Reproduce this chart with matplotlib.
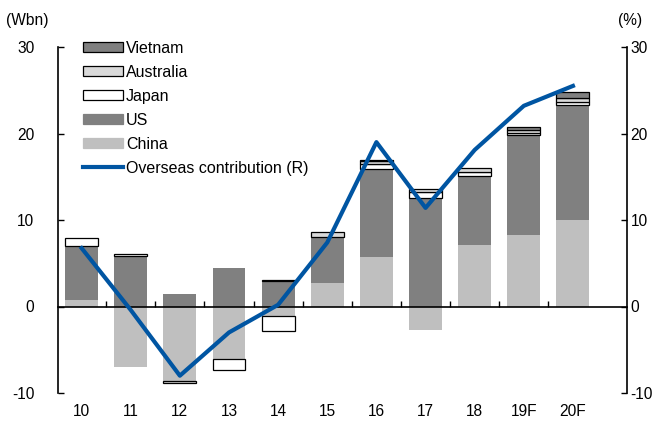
import numpy as np
import matplotlib
matplotlib.use('Agg')
import matplotlib.pyplot as plt
import matplotlib.patches as mpatches
from matplotlib.lines import Line2D

plt.rcParams['font.family'] = ['Liberation Sans', 'DejaVu Sans']
plt.rcParams['axes.unicode_minus'] = False

# data (Wbn, overseas contribution in %)
years = ['10', '11', '12', '13', '14', '15', '16', '17', '18', '19F', '20F']
china = [0.7, -7.0, -8.6, -6.1, -1.1, 2.7, 5.7, -2.7, 7.15, 8.3, 9.95]
us = [6.3, 5.8, 1.4, 4.5, 3.0, 5.3, 10.2, 12.5, 7.95, 11.5, 13.3]
japan = [0.9, 0.3, 0.0, -1.2, -1.7, 0.0, 0.6, 0.7, 0.5, 0.3, 0.4]
australia = [0.0, 0.0, -0.3, 0.0, 0.1, 0.6, 0.3, 0.4, 0.4, 0.3, 0.4]
vietnam = [0.0, 0.0, 0.0, 0.0, 0.0, 0.0, 0.1, 0.0, 0.0, 0.3, 0.7]
overseas = [6.75, -0.4, -8.0, -3.0, 0.2, 7.4, 19.0, 11.4, 18.1, 23.2, 25.5]

series = [
    ('China', china, '#BFBFBF', 'none'),
    ('US', us, '#808080', 'none'),
    ('Japan', japan, '#FFFFFF', 'black'),
    ('Australia', australia, '#D9D9D9', 'black'),
    ('Vietnam', vietnam, '#808080', 'black'),
]
line_color = '#0055A2'

fig = plt.figure(figsize=(6.53, 4.28), dpi=100)
ax = fig.add_axes([58 / 653, 35 / 428, (627 - 58) / 653, (393 - 47) / 428])

x = np.arange(len(years))
width = 0.67
pos_bottom = np.zeros(len(years))
neg_bottom = np.zeros(len(years))
handles = {}
for name, vals, color, edge in series:
    vals = np.array(vals)
    bottom = np.where(vals >= 0, pos_bottom, neg_bottom)
    lw = np.where(vals != 0, 0.9 if edge != 'none' else 0, 0)
    ax.bar(x, vals, width, bottom=bottom, color=color, edgecolor=edge, linewidth=lw, zorder=2)
    pos_bottom += np.where(vals > 0, vals, 0)
    neg_bottom += np.where(vals < 0, vals, 0)
    handles[name] = mpatches.Patch(facecolor=color, edgecolor=edge if edge != 'none' else color, linewidth=0.9)

ax.set_xlim(-0.48, 11.1)
ax.set_ylim(-10, 30)
ax.set_yticks([-10, 0, 10, 20, 30])
ax.tick_params(axis='y', direction='in', length=4, width=1, labelsize=11.2, pad=17)
ax.spines['top'].set_visible(False)
ax.spines['right'].set_visible(False)
ax.spines['bottom'].set_position(('data', 0))
ax.spines['left'].set_linewidth(1.2)
ax.spines['bottom'].set_linewidth(1.2)
ax.spines['bottom'].set_zorder(3)
ax.set_xticks(x[:-1] + 0.5)
ax.tick_params(axis='x', direction='in', length=4, width=1, labelbottom=False)

sec = ax.secondary_xaxis('bottom')
sec.set_xticks(x)
sec.set_xticklabels(years)
sec.spines['bottom'].set_visible(False)
sec.tick_params(axis='x', length=0, labelsize=11.2, pad=8)

ax2 = ax.twinx()
ax2.plot(x, overseas, color=line_color, linewidth=3.0, zorder=4)
ax2.set_ylim(-10, 30)
ax2.set_yticks([-10, 0, 10, 20, 30])
ax2.tick_params(axis='y', direction='in', length=4, width=1, labelsize=11.2, pad=2.5)
for s in ['top', 'left', 'bottom']:
    ax2.spines[s].set_visible(False)
ax2.spines['right'].set_linewidth(1.2)

fig.text(6 / 653, 1 - 20 / 428, '(Wbn)', fontsize=11.2, va='center', ha='left')
fig.text(618 / 653, 1 - 20 / 428, '(%)', fontsize=11.2, va='center', ha='left')

leg_handles = [handles['Vietnam'], handles['Australia'], handles['Japan'], handles['US'], handles['China'],
               Line2D([0], [0], color=line_color, linewidth=3.0)]
leg_labels = ['Vietnam', 'Australia', 'Japan', 'US', 'China', 'Overseas contribution (R)']
fig.legend(leg_handles, leg_labels, loc='upper left', bbox_to_anchor=(83 / 653, 1 - 41 / 428),
           frameon=False, fontsize=11.5, handlelength=2.5, handleheight=0.6,
           handletextpad=0.2, labelspacing=0.56, borderpad=0, borderaxespad=0)

fig.savefig('out.png', dpi=100)
